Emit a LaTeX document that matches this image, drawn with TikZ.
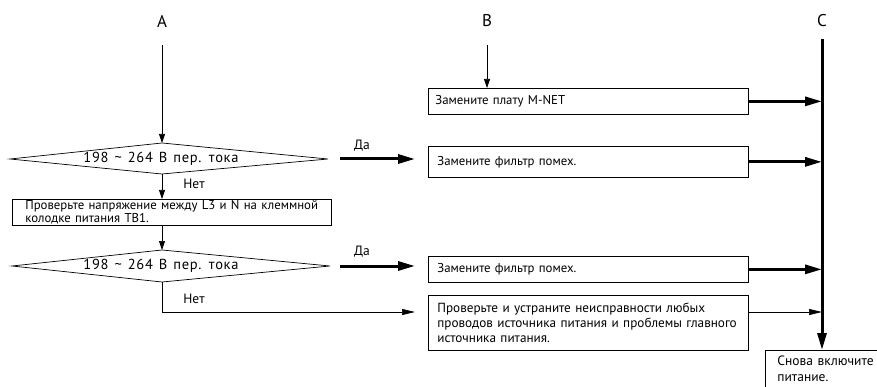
\documentclass[tikz,border=0pt]{standalone}
\usepackage{fontspec}
\setmainfont{PT Sans}
\newfontfamily\dfont[LetterSpace=5,WordSpace=1.3]{PT Sans}
\usetikzlibrary{arrows.meta}
\begin{document}
\begin{tikzpicture}[x=1pt,y=-1pt,
  box/.style={draw, line width=0.7pt, rectangle, anchor=north west, inner xsep=7pt, inner ysep=0pt, align=left, font=\fontsize{12.8}{11.5}\selectfont},
  thinarrow/.style={line width=0.7pt, -{Triangle[length=9pt,width=6pt]}},
  longarrow/.style={line width=0.7pt, -{Triangle[length=13pt,width=6pt]}},
  thickarrow/.style={line width=3pt, -{Triangle[length=17pt,width=9pt]}},
  lbl/.style={font=\fontsize{13.5}{15}\selectfont, inner sep=0pt},
  big/.style={font=\fontsize{17}{20}\selectfont, inner sep=0pt},
  dtext/.style={font=\dfont\fontsize{14.5}{15}\selectfont, inner sep=0pt},
  dia/.style={line width=0.7pt}]
\useasboundingbox (0,0) rectangle (877,387);

% column labels
\node[big] (A) at (162,21) {A};
\node[big] (B) at (487,21) {B};
\node[big] (C) at (822,21) {C};

% first decision
\coordinate (d1t) at (162,143);
\coordinate (d1b) at (162,174);
\coordinate (d1l) at (10,159);
\coordinate (d1r) at (328,159);
\draw[dia] (d1l) -- (d1t) -- (d1r) -- (d1b) -- cycle;
\node[dtext] (d1) at (161,158.5) {198 \textasciitilde\ 264 В пер. тока};

% check box
\node[box, inner xsep=13pt, minimum width=319pt, minimum height=26pt, text width=293pt] (P) at (12,199)
  {\mbox{Проверьте напряжение между L3 и N на клеммной}\\\mbox{колодке питания TB1.}};

% second decision
\coordinate (d2t) at (162,250);
\coordinate (d2b) at (162,282);
\coordinate (d2l) at (12,266);
\coordinate (d2r) at (330,266);
\draw[dia] (d2l) -- (d2t) -- (d2r) -- (d2b) -- cycle;
\node[dtext] (d2) at (161,266) {198 \textasciitilde\ 264 В пер. тока};

% right boxes
\node[box, minimum width=320pt, minimum height=26pt, text width=306pt] (r1) at (428,88) {Замените плату M-NET};
\node[box, inner xsep=9pt, minimum width=320pt, minimum height=31pt, text width=302pt] (r2) at (428,146) {Замените фильтр помех.};
\node[box, inner xsep=9pt, minimum width=320pt, minimum height=26pt, text width=302pt] (r3) at (428,256) {Замените фильтр помех.};
\node[box, inner xsep=9pt, minimum width=320pt, minimum height=55pt, text width=302pt, font=\fontsize{13.2}{15}\selectfont] (r4) at (428,295)
  {\mbox{Проверьте и устраните неисправности любых}\\\mbox{проводов источника питания и проблемы главного}\\\mbox{источника питания.}};

% final box (runs off the right edge)
\node[box, inner xsep=12pt, minimum width=130pt, minimum height=37pt, text width=106pt, font=\fontsize{13.5}{16.5}\selectfont] (S) at (765,350)
  {\mbox{Снова включите}\\\mbox{питание.}};

% labels
\node[lbl] (y1) at (362,146) {Да};
\node[lbl] (y2) at (362,252) {Да};
\node[lbl] (n1) at (194,184) {Нет};
\node[lbl] (n2l) at (194,299) {Нет};

% connectors
\draw[thinarrow, shorten <=18pt] (A.south) -- (d1t);
\draw[thinarrow, shorten <=18pt] (B.south) -- (r1.north -| B);
\draw[thinarrow] (d1b) -- (P.north -| d1b);
\draw[thinarrow] (P.south -| d2t) -- (d2t);
\draw[thickarrow, shorten <=12pt, shorten >=13pt] (d1r) -- (r2.west |- d1r);
\draw[thickarrow, shorten <=10pt, shorten >=13pt] (d2r) -- (r3.west |- d2r);
\coordinate (nb) at (162,312);
\draw[longarrow, shorten >=13pt] (d2b) -- (nb) -- (r4.west |- nb);

% C bus
\coordinate (Ctop) at (822,39);
\draw[thickarrow] (Ctop) -- (Ctop |- S.north);
\draw[thickarrow] (r1.east) -- (Ctop |- r1.east);
\draw[thickarrow] (r2.east) -- (Ctop |- r2.east);
\draw[thickarrow] (r3.east) -- (Ctop |- r3.east);
\draw[longarrow] (r4.east |- nb) -- (Ctop |- nb);
\end{tikzpicture}
\end{document}
